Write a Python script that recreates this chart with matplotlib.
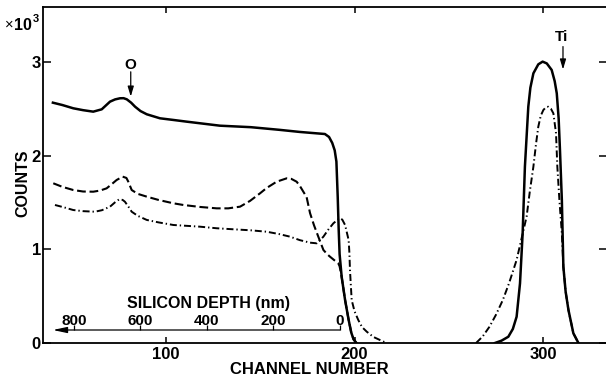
import numpy as np
import matplotlib.pyplot as plt

plt.rcParams.update({"font.family": "Liberation Sans", "font.weight": "bold",
                     "font.size": 12})

# ---- solid curve: Si matrix edge + Ti peak ----
solid_si_ch = [40, 45, 50.8, 56, 61.4, 65.9, 70.3, 73, 75.6, 77.5, 79.2, 81.5, 83.6,
               86.5, 89.8, 96.8, 104, 111, 120, 128.6, 145, 160, 171, 180, 184.3,
               186.5, 188.2, 189.5, 190.4, 191.1, 191.6, 192.1, 193.2, 195, 196.9,
               198.3, 199.5, 201]
solid_si_ct = [2570, 2545, 2510, 2490, 2474, 2499, 2581, 2605, 2617, 2618, 2606, 2570,
               2527, 2480, 2446, 2403, 2385, 2367, 2345, 2324, 2308, 2280, 2257, 2242,
               2235, 2203, 2139, 2060, 1940, 1560, 1220, 950, 706, 460, 246, 110, 40, 0]
solid_ti_ch = [274.5, 278, 281.6, 284, 286, 287.8, 289.2, 290.4, 292.2, 293.3, 294.9,
               297.5, 299.8, 302, 304.6, 306.2, 307.3, 308.3, 309, 310, 310.8, 312,
               313.5, 316.1, 318.8]
solid_ti_ct = [0, 25, 67, 150, 281, 638, 1173, 1886, 2527, 2730, 2884, 2980, 3009,
               2990, 2920, 2800, 2670, 2400, 2064, 1529, 816, 550, 353, 104, 0]

# ---- dashed curve ----
dash_ch = [40.2, 45, 50.8, 56, 61.4, 65, 68.5, 71, 73.8, 77, 79, 80, 81.8, 85, 89.8,
           96, 103.9, 109.2, 118, 126.9, 133, 139.3, 144.6, 149.9, 153.4, 158.7, 164,
           166.5, 169.3, 171, 174.6, 176.4, 178.5, 180.8, 183.5, 185.5, 187, 189,
           191.4, 192.1, 193.2, 195, 196.9, 198.3, 199.5, 201]
dash_ct = [1708, 1670, 1636, 1620, 1618, 1630, 1654, 1695, 1743, 1779, 1765, 1725, 1636,
           1595, 1565, 1530, 1494, 1476, 1455, 1440, 1440, 1458, 1520, 1601, 1658, 1725,
           1761, 1755, 1725, 1680, 1560, 1390, 1260, 1137, 995, 950, 923, 890, 852, 820,
           706, 460, 246, 110, 40, 0]

# ---- dash-dot curve: Si matrix part + Ti peak ----
dd_si_ch = [41.1, 46, 50.8, 56, 62.3, 66, 70.3, 73, 75.2, 77, 78.2, 80, 81.8, 85, 89.8,
            96, 103.9, 118, 126.9, 135.7, 145, 153.4, 160, 165.8, 171, 176.4, 180,
            183.5, 186, 188.8, 192, 193.5, 195, 196.9, 197.3, 197.6, 198.5, 200, 202,
            204, 206.5, 210, 213.5, 217]
dd_si_ct = [1476, 1450, 1422, 1410, 1404, 1420, 1458, 1505, 1537, 1530, 1511, 1460, 1404,
            1360, 1316, 1290, 1262, 1244, 1227, 1216, 1205, 1190, 1165, 1137, 1100, 1073,
            1066, 1137, 1210, 1280, 1334, 1320, 1262, 1100, 959, 780, 460, 340, 246, 170,
            121, 65, 32, 0]
dd_ti_ch = [264.5, 268, 271.6, 275, 278.7, 282, 286, 289, 291.3, 293, 294.9, 296.3,
            297.5, 298.8, 300.2, 301.5, 302.8, 304.2, 305.5, 306.9, 307.6, 308.7, 310,
            310.8, 312, 313.5, 316.1, 318.8]
dd_ti_ct = [0, 70, 174, 300, 460, 640, 888, 1150, 1351, 1620, 1886, 2130, 2313, 2430,
            2492, 2520, 2527, 2505, 2456, 2243, 1886, 1529, 1173, 816, 550, 353, 104, 0]

# ---- silicon depth scale ----
depth_ticks = [0, 200, 400, 600, 800]
depth_ch0, depth_scale = 192.3, 0.1764   # channel of zero depth, channels per nm


def depth_to_ch(d):
    return depth_ch0 - np.asarray(d) * depth_scale


fig = plt.figure(figsize=(6.06, 3.81), dpi=100)
W, H = 606, 381
ax = fig.add_axes([43 / W, 1 - 343 / H, (607 - 43) / W, (343 - 7.3) / H])

ax.plot(solid_si_ch, solid_si_ct, '-', c='k', lw=1.8)
ax.plot(solid_ti_ch, solid_ti_ct, '-', c='k', lw=1.8)
ax.plot(dash_ch, dash_ct, c='k', lw=1.5, dashes=(4.2, 1.8))
ax.plot(dd_si_ch, dd_si_ct, c='k', lw=1.4, dashes=(3.6, 1.5, 0.7, 1.5))
ax.plot(dd_ti_ch, dd_ti_ct, c='k', lw=1.4, dashes=(3.6, 1.5, 0.7, 1.5))

ax.set_xlim(34.75, 333.95)
ax.set_ylim(0, 3590)
ax.set_xticks([100, 200, 300])
ax.set_xticklabels(['100', '200', '300'])
ax.set_yticks([0, 1000, 2000, 3000])
ax.set_yticklabels(['0', '1', '2', '3'])
ax.tick_params(axis='x', direction='in', length=4.5, width=1.1, pad=3,
               top=True, labelsize=12)
ax.tick_params(axis='y', direction='in', length=5.5, width=1.1, pad=1.5,
               right=True, labelsize=12)
for s in ax.spines.values():
    s.set_linewidth(1.3)

# peak markers
ax.annotate('', xy=(81.3, 2635), xytext=(81.3, 2900),
            arrowprops=dict(arrowstyle='-|>,head_length=0.5,head_width=0.15',
                            lw=0.9, color='k', shrinkA=0, shrinkB=0))
ax.text(81.3, 2975, 'O', ha='center', va='center', fontsize=11)
ax.annotate('', xy=(310.6, 2925), xytext=(310.6, 3170),
            arrowprops=dict(arrowstyle='-|>,head_length=0.5,head_width=0.15',
                            lw=0.9, color='k', shrinkA=0, shrinkB=0))
ax.text(310.1, 3275, 'Ti', ha='center', va='center', fontsize=11)

# silicon depth scale inside the axes
ax.annotate('', xy=(40, 139), xytext=(depth_ch0, 139),
            arrowprops=dict(arrowstyle='-|>,head_length=0.7,head_width=0.15',
                            lw=0.9, color='k', shrinkA=0, shrinkB=0))
ax.vlines(depth_to_ch(depth_ticks), 139, 195, color='k', lw=0.9)
for d, c in zip(depth_ticks, depth_to_ch(depth_ticks)):
    ax.text(c, 160, str(d), ha='center', va='bottom', fontsize=11)
ax.text(122.8, 425, 'SILICON DEPTH (nm)', ha='center', va='center', fontsize=11.5)

fig.text(309 / W, 1 - 370 / H, 'CHANNEL NUMBER', ha='center', va='center',
         fontsize=12)
fig.text(23 / W, 1 - 183 / H, 'COUNTS', ha='center', va='center',
         rotation=90, fontsize=11.5)
fig.text(5 / W, 1 - 25 / H, '\u00d7', ha='left', va='center', fontsize=10.5,
         fontweight='normal')
fig.text(14 / W, 1 - 26 / H, '10', ha='left', va='center', fontsize=11.5)
fig.text(33 / W, 1 - 19 / H, '3', ha='left', va='center', fontsize=8)

fig.savefig('out.png', dpi=100)
